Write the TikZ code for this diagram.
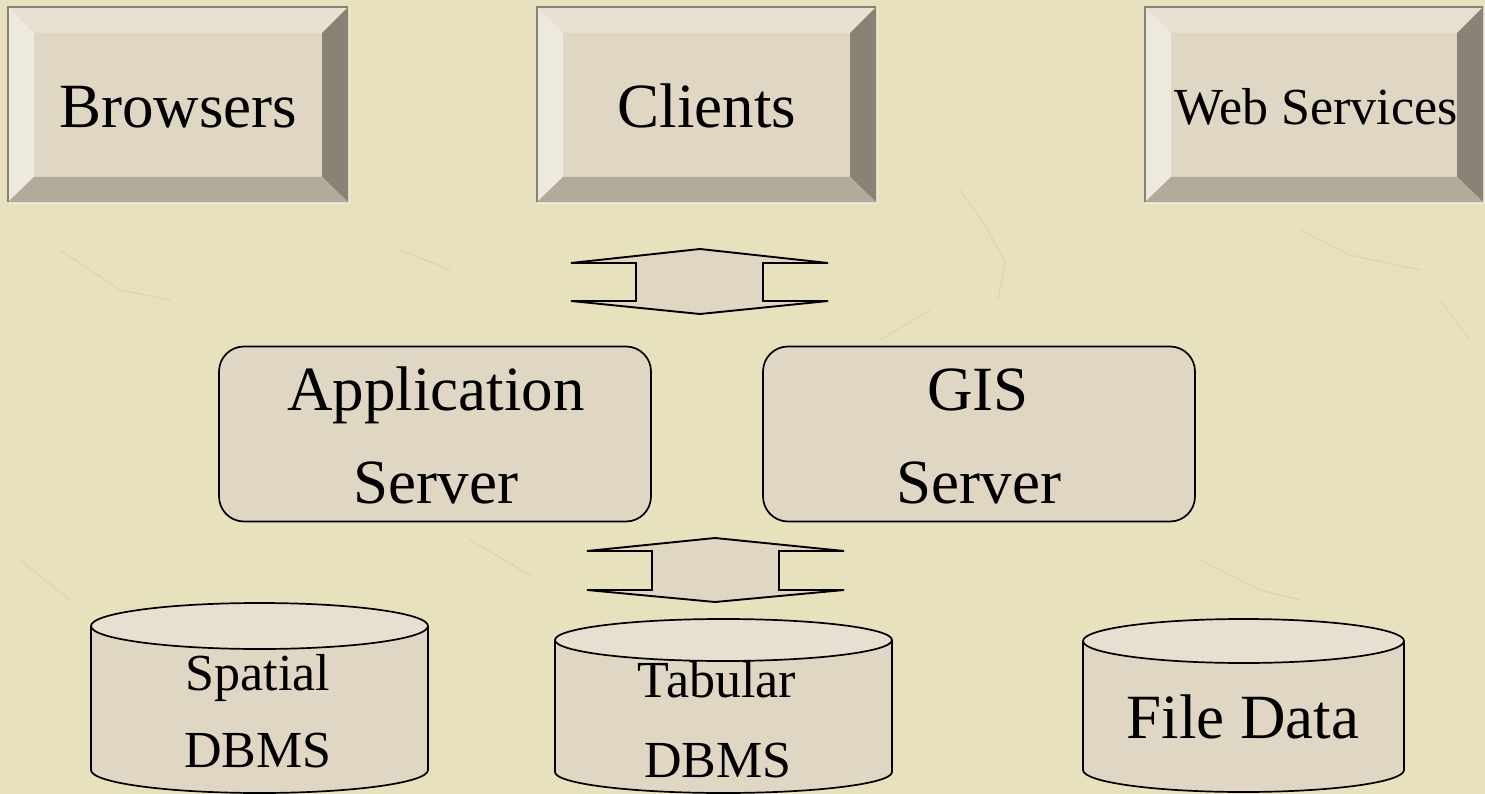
\documentclass[tikz,border=0pt]{standalone}
\usepackage{fontspec}
\setmainfont{Liberation Serif}
\definecolor{paper}{RGB}{231,225,190}
\definecolor{crack}{RGB}{208,201,164}
\definecolor{face}{RGB}{223,215,196}
\definecolor{bevtop}{RGB}{231,224,208}
\definecolor{bevleft}{RGB}{238,233,222}
\definecolor{bevright}{RGB}{138,130,117}
\definecolor{bevbottom}{RGB}{178,170,154}
\definecolor{caplight}{RGB}{231,224,209}

% bevelled button: x1, y1, x2, y2 (outer corners), bevel depth 26
\newcommand\bevelbox[4]{%
  \fill[face]      (#1,#2) rectangle (#3,#4);
  \fill[bevtop]    (#1,#2) -- (#3,#2) -- (#3-26,#2+26) -- (#1+26,#2+26) -- cycle;
  \fill[bevleft]   (#1,#2) -- (#1+26,#2+26) -- (#1+26,#4-25) -- (#1,#4) -- cycle;
  \fill[bevright]  (#3,#2) -- (#3,#4) -- (#3-26,#4-25) -- (#3-26,#2+26) -- cycle;
  \fill[bevbottom] (#1,#4) -- (#3,#4) -- (#3-26,#4-25) -- (#1+26,#4-25) -- cycle;
  \draw[bevright, line width=2.2] (#1,#4) -- (#1,#2) -- (#3,#2);
  \draw[bevleft, line width=1.6] (#3+1.6,#2) -- (#3+1.6,#4+1.6) -- (#1,#4+1.6);
}

% database drum: x1, x2, y of top rim centre, y of bottom rim centre, rim radius
\newcommand\drum[5]{%
  \fill[face] (#1,#3) -- (#1,#4)
     arc[start angle=180, end angle=0, x radius={(#2-#1)/2}, y radius=#5]
     -- (#2,#3) -- cycle;
  \draw[outl] (#1,#3) -- (#1,#4)
     arc[start angle=180, end angle=0, x radius={(#2-#1)/2}, y radius=#5]
     -- (#2,#3);
  \filldraw[outl, fill=caplight] ({(#1+#2)/2},#3)
     ellipse[x radius={(#2-#1)/2}, y radius=#5];
}

\begin{document}
\begin{tikzpicture}[x=1pt, y=-1pt,
  outl/.style={draw=black, line width=1.7, line join=miter},
  big/.style={font=\fontsize{63}{63}\selectfont, inner sep=0pt, anchor=base},
  mid/.style={font=\fontsize{52}{52}\selectfont, inner sep=0pt, anchor=base},
  srvbox/.style={draw=black, line width=1.7, fill=face, rounded corners=25,
                 minimum width=432, minimum height=175, inner sep=0pt},
  blockarrow/.style={draw=black, line width=1.9, fill=face, line join=miter}]

  % paper background
  \fill[paper] (0,0) rectangle (1485,794);
  \useasboundingbox (0,0) rectangle (1485,794);
  \clip (0,0) rectangle (1485,794);

  % faint cracks in the paper
  \begin{scope}[crack, line width=1.4, opacity=0.45, line cap=round, line join=round]
    \draw (960,190) -- (985,225) -- (1005,262) -- (998,300);
    \draw (930,310) -- (880,340);
    \draw (1300,230) -- (1350,255) -- (1420,270);
    \draw (60,250) -- (120,290) -- (170,300);
    \draw (470,540) -- (530,575);
    \draw (1200,560) -- (1260,590) -- (1300,600);
    \draw (20,560) -- (70,600);
    \draw (400,250) -- (450,270);
    \draw (1440,300) -- (1470,340);
  \end{scope}

  % top row of buttons
  \bevelbox{8}{7}{348}{202}
  \bevelbox{537}{7}{876}{202}
  \bevelbox{1145}{7}{1483}{202}
  \node[big] (browsers) at (178,128) {Browsers};
  \node[big] (clients)  at (707,128) {Clients};
  \node[mid] (websvc)   at (1316,125) {Web Services};

  % upper two-way block arrow
  \coordinate (ua) at (700,249);
  \coordinate (ub) at (700,314);
  \draw[blockarrow] (ua) -- (828,263) -- (763,263) -- (763,301) -- (828,301)
     -- (ub) -- (571,301) -- (636,301) -- (636,263) -- (571,263) -- cycle;

  % server boxes
  \node[srvbox] (appbox) at (435,434) {};
  \node[srvbox] (gisbox) at (979,434) {};
  \node[big] (app1) at (436,410) {Application};
  \node[big] (app2) at (436,503) {Server};
  \node[big] (gis1) at (978,410) {GIS};
  \node[big] (gis2) at (979,503) {Server};

  % lower two-way block arrow
  \coordinate (la) at (715,538);
  \coordinate (lb) at (715,602);
  \draw[blockarrow] (la) -- (844,551) -- (779,551) -- (779,590) -- (844,590)
     -- (lb) -- (587,590) -- (652,590) -- (652,551) -- (587,551) -- cycle;

  % data stores
  \drum{91}{428}{626}{770}{23}
  \drum{555}{892}{640}{772}{21}
  \drum{1083}{1404}{641}{770}{22}
  \node[mid] (sp1) at (258,690) {Spatial};
  \node[mid] (sp2) at (258,767) {DBMS};
  \node[mid] (tb1) at (717,697) {Tabular};
  \node[mid] (tb2) at (718,777) {DBMS};
  \node[big] (file) at (1243,738) {File Data};
\end{tikzpicture}
\end{document}
